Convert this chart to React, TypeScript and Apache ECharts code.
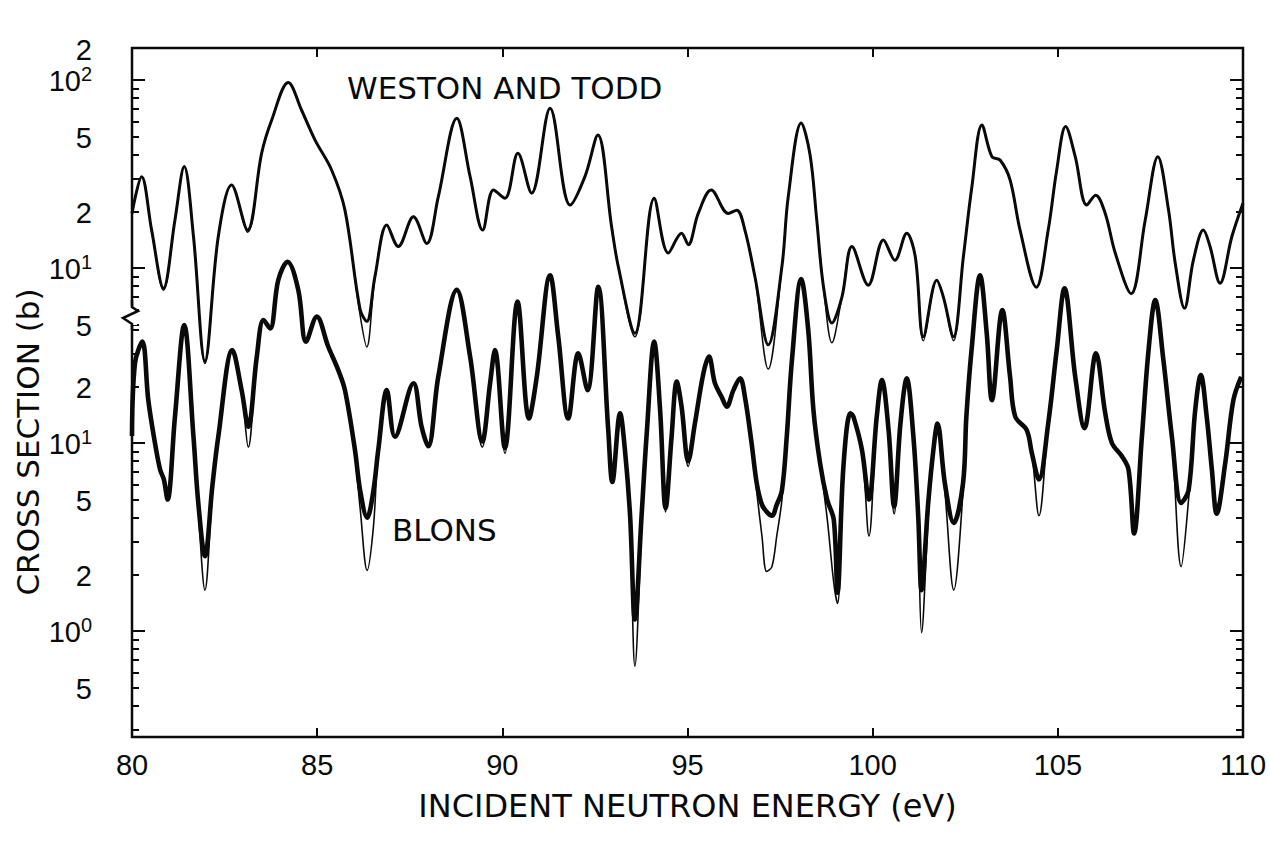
import React, { useEffect, useRef } from "react";
import * as echarts from "echarts";

// ---------- data (cross sections in barns) ----------
const upperEnergy = [
  80.0, 80.26, 80.53, 80.85, 81.16, 81.41, 81.66, 81.97, 82.33, 82.69, 83.12, 83.5, 83.77, 84.22, 84.58,
  84.94, 85.39, 85.75, 86.16, 86.34, 86.56, 86.88, 87.19, 87.6, 87.96, 88.27, 88.77, 89.13, 89.47, 89.76,
  90.07, 90.42, 90.79, 91.29, 91.83, 92.23, 92.58, 92.95, 93.13, 93.58, 94.1, 94.48, 94.84, 95.02, 95.29,
  95.64, 96.1, 96.33, 96.55, 96.82, 97.18, 97.55, 97.72, 98.07, 98.31, 98.49, 98.67, 98.9, 99.17, 99.44,
  99.88, 100.29, 100.6, 100.92, 101.15, 101.37, 101.73, 101.91, 102.18, 102.45, 102.68, 102.95, 103.22, 103.44, 103.71,
  103.98, 104.42, 104.74, 104.97, 105.21, 105.47, 105.78, 106.02, 106.28, 106.55, 106.98, 107.36, 107.7, 107.99, 108.17,
  108.42, 108.66, 108.93, 109.11, 109.38, 109.7, 110.0,
];
const westonTodd = [
  19.5, 30.6, 15.9, 7.8, 18.0, 34.6, 14.7, 3.2, 14.7, 27.6, 15.9, 40.7, 61, 97, 69,
  48, 33.2, 20.3, 6.0, 5.2, 9.0, 16.9, 13.0, 18.7, 13.5, 23.9, 62.6, 30.6, 15.9, 26.0,
  23.5, 40.7, 25.0, 70.7, 21.6, 30.6, 51, 16.6, 10.2, 4.5, 23.5, 12.0, 15.3, 13.3, 19.5,
  26.0, 19.5, 20.3, 15.9, 9.0, 3.9, 10.2, 23.9, 59, 39.9, 18.0, 8.0, 5.1, 7.0, 13.0,
  8.1, 14.1, 11.0, 15.3, 11.5, 4.3, 8.6, 7.0, 4.3, 11.5, 27.1, 57.6, 39.1, 37.5, 29.4,
  15.9, 7.9, 15.9, 33.2, 56.5, 39.1, 21.6, 24.4, 19.5, 12.0, 7.3, 18.0, 39.1, 20.3, 10.6,
  6.1, 11.0, 15.9, 13.0, 8.3, 14.7, 22.1,
];
const westonToddFit = [
  19.5, 30.6, 15.9, 7.6, 18.0, 34.6, 14.7, 3.1, 14.7, 27.6, 15.5, 40.7, 61, 97, 69,
  48, 33.2, 20.3, 5.6, 3.8, 8.8, 16.9, 13.0, 18.7, 13.5, 23.9, 62.6, 30.6, 15.9, 26.0,
  23.5, 40.7, 25.0, 70.7, 21.6, 30.6, 51, 16.6, 10.2, 4.3, 23.5, 12.0, 15.3, 13.3, 19.5,
  26.0, 19.5, 20.3, 15.9, 9.0, 2.9, 10.2, 23.9, 59, 39.9, 18.0, 8.0, 4.0, 7.0, 13.0,
  8.1, 14.1, 11.0, 15.3, 11.5, 4.1, 8.6, 7.0, 4.1, 11.5, 27.1, 57.6, 39.1, 37.5, 29.4,
  15.9, 7.9, 15.9, 33.2, 56.5, 39.1, 21.6, 24.4, 19.5, 12.0, 7.3, 18.0, 39.1, 20.3, 10.6,
  6.1, 11.0, 15.9, 13.0, 8.3, 14.7, 22.1,
];

const lowerEnergy = [
  80.0, 80.08, 80.28, 80.44, 80.62, 80.76, 80.86, 80.96, 81.16, 81.41, 81.66, 81.79, 81.97, 82.17, 82.33,
  82.71, 82.96, 83.14, 83.37, 83.55, 83.73, 83.95, 84.2, 84.49, 84.7, 84.99, 85.3, 85.57, 85.75, 86.02,
  86.16, 86.35, 86.52, 86.65, 86.88, 87.1, 87.6, 87.82, 88.0, 88.27, 88.77, 89.13, 89.46, 89.67, 89.8,
  90.07, 90.41, 90.72, 90.93, 91.29, 91.51, 91.78, 92.05, 92.3, 92.59, 92.86, 92.97, 93.18, 93.31, 93.45,
  93.58, 93.76, 93.9, 94.1, 94.26, 94.41, 94.57, 94.71, 94.84, 95.02, 95.2, 95.43, 95.58, 95.74, 95.92,
  96.06, 96.24, 96.42, 96.55, 96.73, 96.87, 97.01, 97.14, 97.28, 97.41, 97.55, 97.68, 97.82, 98.07, 98.26,
  98.4, 98.58, 98.77, 98.95, 99.05, 99.21, 99.4, 99.48, 99.71, 99.9, 100.11, 100.25, 100.43, 100.58, 100.75,
  100.92, 101.1, 101.23, 101.32, 101.5, 101.64, 101.75, 101.95, 102.19, 102.44, 102.53, 102.67, 102.9, 103.08, 103.22,
  103.5, 103.71, 103.85, 104.16, 104.3, 104.49, 104.74, 104.97, 105.18, 105.47, 105.72, 106.03, 106.28, 106.46, 106.73,
  106.91, 107.06, 107.27, 107.45, 107.63, 107.85, 108.08, 108.33, 108.53, 108.71, 108.86, 109.02, 109.16, 109.29, 109.52,
  109.74, 109.95,
];
const blons = [
  10.9, 26.5, 34.6, 16.9, 10.0, 7.2, 6.4, 5.0, 13.8, 42.4, 10.8, 4.8, 2.5, 5.9, 10.8,
  31.2, 19.1, 12.2, 28.8, 45.1, 40.7, 73.6, 92, 65.2, 34.6, 47, 32.5, 24.4, 19.1, 9.2,
  5.6, 4.0, 5.6, 9.2, 19.1, 10.8, 20.8, 12.2, 9.6, 22.5, 65.2, 28.8, 10.2, 20.8, 31.2,
  9.4, 56.5, 13.5, 22.5, 78, 36.8, 13.5, 30.0, 19.1, 67.8, 11.7, 6.2, 14.4, 9.2, 4.1,
  1.15, 4.1, 11.3, 34.6, 15.0, 4.5, 10.8, 21.2, 15.6, 8.0, 12.7, 23.5, 28.8, 20.8, 17.6,
  15.6, 19.1, 22.1, 17.6, 10.0, 6.1, 4.7, 4.3, 4.1, 4.7, 5.6, 10.8, 27.6, 74.5, 39.9,
  15.0, 7.8, 5.0, 3.9, 1.6, 7.5, 14.4, 13.8, 9.2, 5.0, 13.8, 21.6, 11.7, 4.6, 12.7,
  22.1, 10.8, 4.1, 1.65, 4.8, 9.2, 12.7, 6.1, 3.75, 6.1, 13.8, 31.2, 78, 38.3, 16.9,
  51, 22.5, 13.8, 11.7, 8.8, 6.4, 12.7, 31.2, 66.5, 22.5, 12.0, 30.0, 14.4, 10.0, 8.5,
  7.2, 3.3, 10.8, 31.2, 57.6, 27.6, 10.8, 4.8, 5.6, 15.0, 23.0, 13.8, 7.2, 4.2, 7.8,
  16.9, 22.5,
];
const blonsFit = [
  10.9, 26.5, 34.6, 16.9, 10.0, 7.2, 6.4, 5.5, 13.8, 42.4, 10.8, 4.4, 1.65, 5.4, 10.8,
  31.2, 19.1, 9.5, 28.8, 45.1, 40.7, 73.6, 92, 65.2, 34.6, 47, 32.5, 24.4, 19.1, 8.5,
  4.5, 2.1, 3.6, 9.2, 19.1, 10.8, 20.8, 12.2, 9.6, 22.5, 65.2, 28.8, 9.5, 20.8, 31.2,
  8.8, 56.5, 13.5, 22.5, 78, 36.8, 13.5, 30.0, 19.1, 67.8, 11.7, 6.2, 14.4, 9.2, 3.5,
  0.65, 3.5, 11.3, 34.6, 15.0, 4.3, 10.8, 21.2, 15.6, 7.5, 12.7, 23.5, 28.8, 20.8, 17.6,
  15.6, 19.1, 22.1, 17.6, 10.0, 5.5, 3.2, 2.07, 2.2, 3.2, 5.0, 10.8, 27.6, 74.5, 39.9,
  15.0, 7.8, 4.0, 1.8, 1.4, 6.5, 14.4, 13.8, 9.2, 3.2, 13.8, 21.6, 11.7, 4.2, 12.7,
  22.1, 10.8, 3.3, 0.98, 4.0, 9.2, 12.7, 5.5, 1.65, 5.5, 13.8, 31.2, 78, 38.3, 16.9,
  51, 22.5, 13.8, 11.7, 8.8, 4.1, 12.7, 31.2, 66.5, 22.5, 12.0, 30.0, 14.4, 10.0, 8.5,
  7.2, 3.3, 10.8, 31.2, 57.6, 27.6, 10.8, 2.2, 5.0, 15.0, 23.0, 13.8, 7.2, 4.6, 7.8,
  16.9, 22.5,
];

// ---------- axis tick values / labels ----------
const xTickValues = [80, 85, 90, 95, 100, 105, 110];
const upperMajorTicks = [10, 100];
const upperMinorTicks = [5, 6, 7, 8, 9, 20, 30, 40, 50, 60, 70, 80, 90];
const upperLabelValues = [100, 50, 20, 10, 5];
const upperLabelTexts = ["10{s|2}", "5", "2", "10{s|1}", "5"];
const lowerMajorTicks = [1, 10];
const lowerMinorTicks = [0.3, 0.4, 0.5, 0.6, 0.7, 0.8, 0.9, 2, 3, 4, 5, 6, 7, 8, 9, 20, 30, 40];
const lowerLabelValues = [20, 10, 5, 2, 1, 0.5];
const lowerLabelTexts = ["2", "10{s|1}", "5", "2", "10{s|0}", "5"];

const FONT = '"Liberation Sans", Arial, sans-serif';
const TITLE_FONT = '"DejaVu Sans", "Liberation Sans", sans-serif';
const INK = "#0a0a0a";

// log-space axis ranges (decades)
const UPPER_MIN = -1.495;
const UPPER_MAX = 2.17;
const LOWER_MIN = -0.564;
const LOWER_MAX = 3.101;

const L = (v: number) => Math.log10(v);

function labelFormatter(values: number[], texts: string[], topText?: string, topVal?: number) {
  return (v: number) => {
    if (topVal !== undefined && Math.abs(v - topVal) < 1e-6) return `{b|${topText}}`;
    for (let i = 0; i < values.length; i++) {
      if (Math.abs(L(values[i]) - v) < 1e-6) {
        const t = texts[i];
        return t.includes("{s|") ? `{b|10}` + t.slice(2) : `{b|${t}}`;
      }
    }
    return "";
  };
}

const rich = {
  b: { fontSize: 29, fontFamily: FONT, color: INK, lineHeight: 32, verticalAlign: "bottom" },
  s: { fontSize: 20, fontFamily: FONT, color: INK, lineHeight: 20, verticalAlign: "top" },
};

function yAxisDef(
  min: number,
  max: number,
  position: "left" | "right",
  ticks: number[],
  len: number,
  labels?: { values: number[]; formatter: (v: number) => string }
) {
  return {
    type: "value",
    gridIndex: 0,
    min,
    max,
    position,
    axisLine: { show: false, onZero: false },
    splitLine: { show: false },
    axisTick: {
      show: true,
      inside: true,
      length: len,
      customValues: ticks,
      lineStyle: { color: INK, width: 2 },
    },
    axisLabel: labels
      ? {
          show: true,
          customValues: labels.values,
          formatter: labels.formatter,
          margin: 40,
          showMaxLabel: true,
          showMinLabel: true,
          hideOverlap: false,
          rich,
        }
      : { show: false },
  };
}

export default function App() {
  const ref = useRef<HTMLDivElement>(null);

  useEffect(() => {
    if (!ref.current) return;
    const chart = echarts.init(ref.current, null, { renderer: "svg" });

    const upperLabelVals = [UPPER_MAX, ...upperLabelValues.map(L)];
    const lowerLabelVals = lowerLabelValues.map(L);

    const xTickStyle = { show: true, inside: true, length: 9, lineStyle: { color: INK, width: 2 } };

    const option = {
      animation: false,
      backgroundColor: "#fff",
      grid: {
        left: 132,
        right: 27,
        top: 48,
        bottom: 111,
        show: true,
        borderColor: INK,
        borderWidth: 2.5,
        backgroundColor: "transparent",
      },
      xAxis: [
        {
          type: "value",
          position: "bottom",
          min: 80,
          max: 110,
          interval: 5,
          axisLine: { show: false, onZero: false },
          splitLine: { show: false },
          axisTick: xTickStyle,
          axisLabel: {
            customValues: xTickValues,
            fontSize: 29,
            fontFamily: FONT,
            color: INK,
            margin: 13,
          },
          name: "INCIDENT NEUTRON ENERGY (eV)",
          nameLocation: "middle",
          nameGap: 53,
          nameTextStyle: { fontSize: 32, fontFamily: TITLE_FONT, color: INK },
        },
        {
          type: "value",
          position: "top",
          min: 80,
          max: 110,
          interval: 5,
          axisLine: { show: false, onZero: false },
          splitLine: { show: false },
          axisTick: xTickStyle,
          axisLabel: { show: false },
        },
      ],
      yAxis: [
        yAxisDef(UPPER_MIN, UPPER_MAX, "left", upperMajorTicks.map(L), 13, {
          values: upperLabelVals,
          formatter: labelFormatter(upperLabelValues, upperLabelTexts, "2", UPPER_MAX),
        }),
        yAxisDef(UPPER_MIN, UPPER_MAX, "left", upperMinorTicks.map(L), 7),
        yAxisDef(UPPER_MIN, UPPER_MAX, "right", upperMajorTicks.map(L), 13),
        yAxisDef(UPPER_MIN, UPPER_MAX, "right", upperMinorTicks.map(L), 7),
        yAxisDef(LOWER_MIN, LOWER_MAX, "left", lowerMajorTicks.map(L), 13, {
          values: lowerLabelVals,
          formatter: labelFormatter(lowerLabelValues, lowerLabelTexts),
        }),
        yAxisDef(LOWER_MIN, LOWER_MAX, "left", lowerMinorTicks.map(L), 7),
        yAxisDef(LOWER_MIN, LOWER_MAX, "right", lowerMajorTicks.map(L), 13),
        yAxisDef(LOWER_MIN, LOWER_MAX, "right", lowerMinorTicks.map(L), 7),
      ],
      series: [
        {
          name: "Weston and Todd",
          type: "line",
          xAxisIndex: 0,
          yAxisIndex: 0,
          data: upperEnergy.map((e, i) => [e, L(westonTodd[i])]),
          showSymbol: false,
          smooth: 0.35,
          lineStyle: { color: INK, width: 3 },
          z: 3,
        },
        {
          name: "Weston and Todd fit",
          type: "line",
          xAxisIndex: 0,
          yAxisIndex: 0,
          data: upperEnergy.map((e, i) => [e, L(westonToddFit[i])]),
          showSymbol: false,
          smooth: 0.35,
          lineStyle: { color: INK, width: 1.5 },
          z: 4,
        },
        {
          name: "Blons",
          type: "line",
          xAxisIndex: 0,
          yAxisIndex: 4,
          data: lowerEnergy.map((e, i) => [e, L(blons[i])]),
          showSymbol: false,
          smooth: 0.35,
          lineStyle: { color: INK, width: 4.6 },
          z: 3,
        },
        {
          name: "Blons fit",
          type: "line",
          xAxisIndex: 0,
          yAxisIndex: 4,
          data: lowerEnergy.map((e, i) => [e, L(blonsFit[i])]),
          showSymbol: false,
          smooth: 0.35,
          lineStyle: { color: INK, width: 1.6 },
          z: 4,
        },
      ],
      graphic: [
        {
          type: "text",
          x: 347,
          y: 88,
          style: {
            text: "WESTON AND TODD",
            fontSize: 31,
            fontFamily: TITLE_FONT,
            fill: INK,
            textVerticalAlign: "middle",
            verticalAlign: "middle",
          },
        },
        {
          type: "text",
          x: 392,
          y: 530,
          style: {
            text: "BLONS",
            fontSize: 31,
            fontFamily: TITLE_FONT,
            fill: INK,
            textVerticalAlign: "middle",
            verticalAlign: "middle",
          },
        },
        {
          type: "text",
          x: 28,
          y: 442,
          rotation: Math.PI / 2,
          style: {
            text: "CROSS SECTION (b)",
            fontSize: 31,
            fontFamily: TITLE_FONT,
            fill: INK,
            textAlign: "center",
            align: "center",
            textVerticalAlign: "middle",
            verticalAlign: "middle",
          },
        },
        {
          type: "rect",
          shape: { x: 127, y: 306, width: 10, height: 19 },
          style: { fill: "#fff" },
          z: 100,
        },
        {
          type: "polyline",
          shape: {
            points: [
              [132, 300],
              [132, 307],
              [138, 311],
              [123, 318],
              [132, 324],
              [132, 330],
            ],
          },
          style: { stroke: INK, lineWidth: 2.5, fill: "none" },
          z: 101,
        },
      ],
    };

    chart.setOption(option as any);
    return () => chart.dispose();
  }, []);

  return (
    <div
      ref={ref}
      style={{ position: "absolute", left: 0, top: 0, width: 1270, height: 848, background: "#fff" }}
    />
  );
}
